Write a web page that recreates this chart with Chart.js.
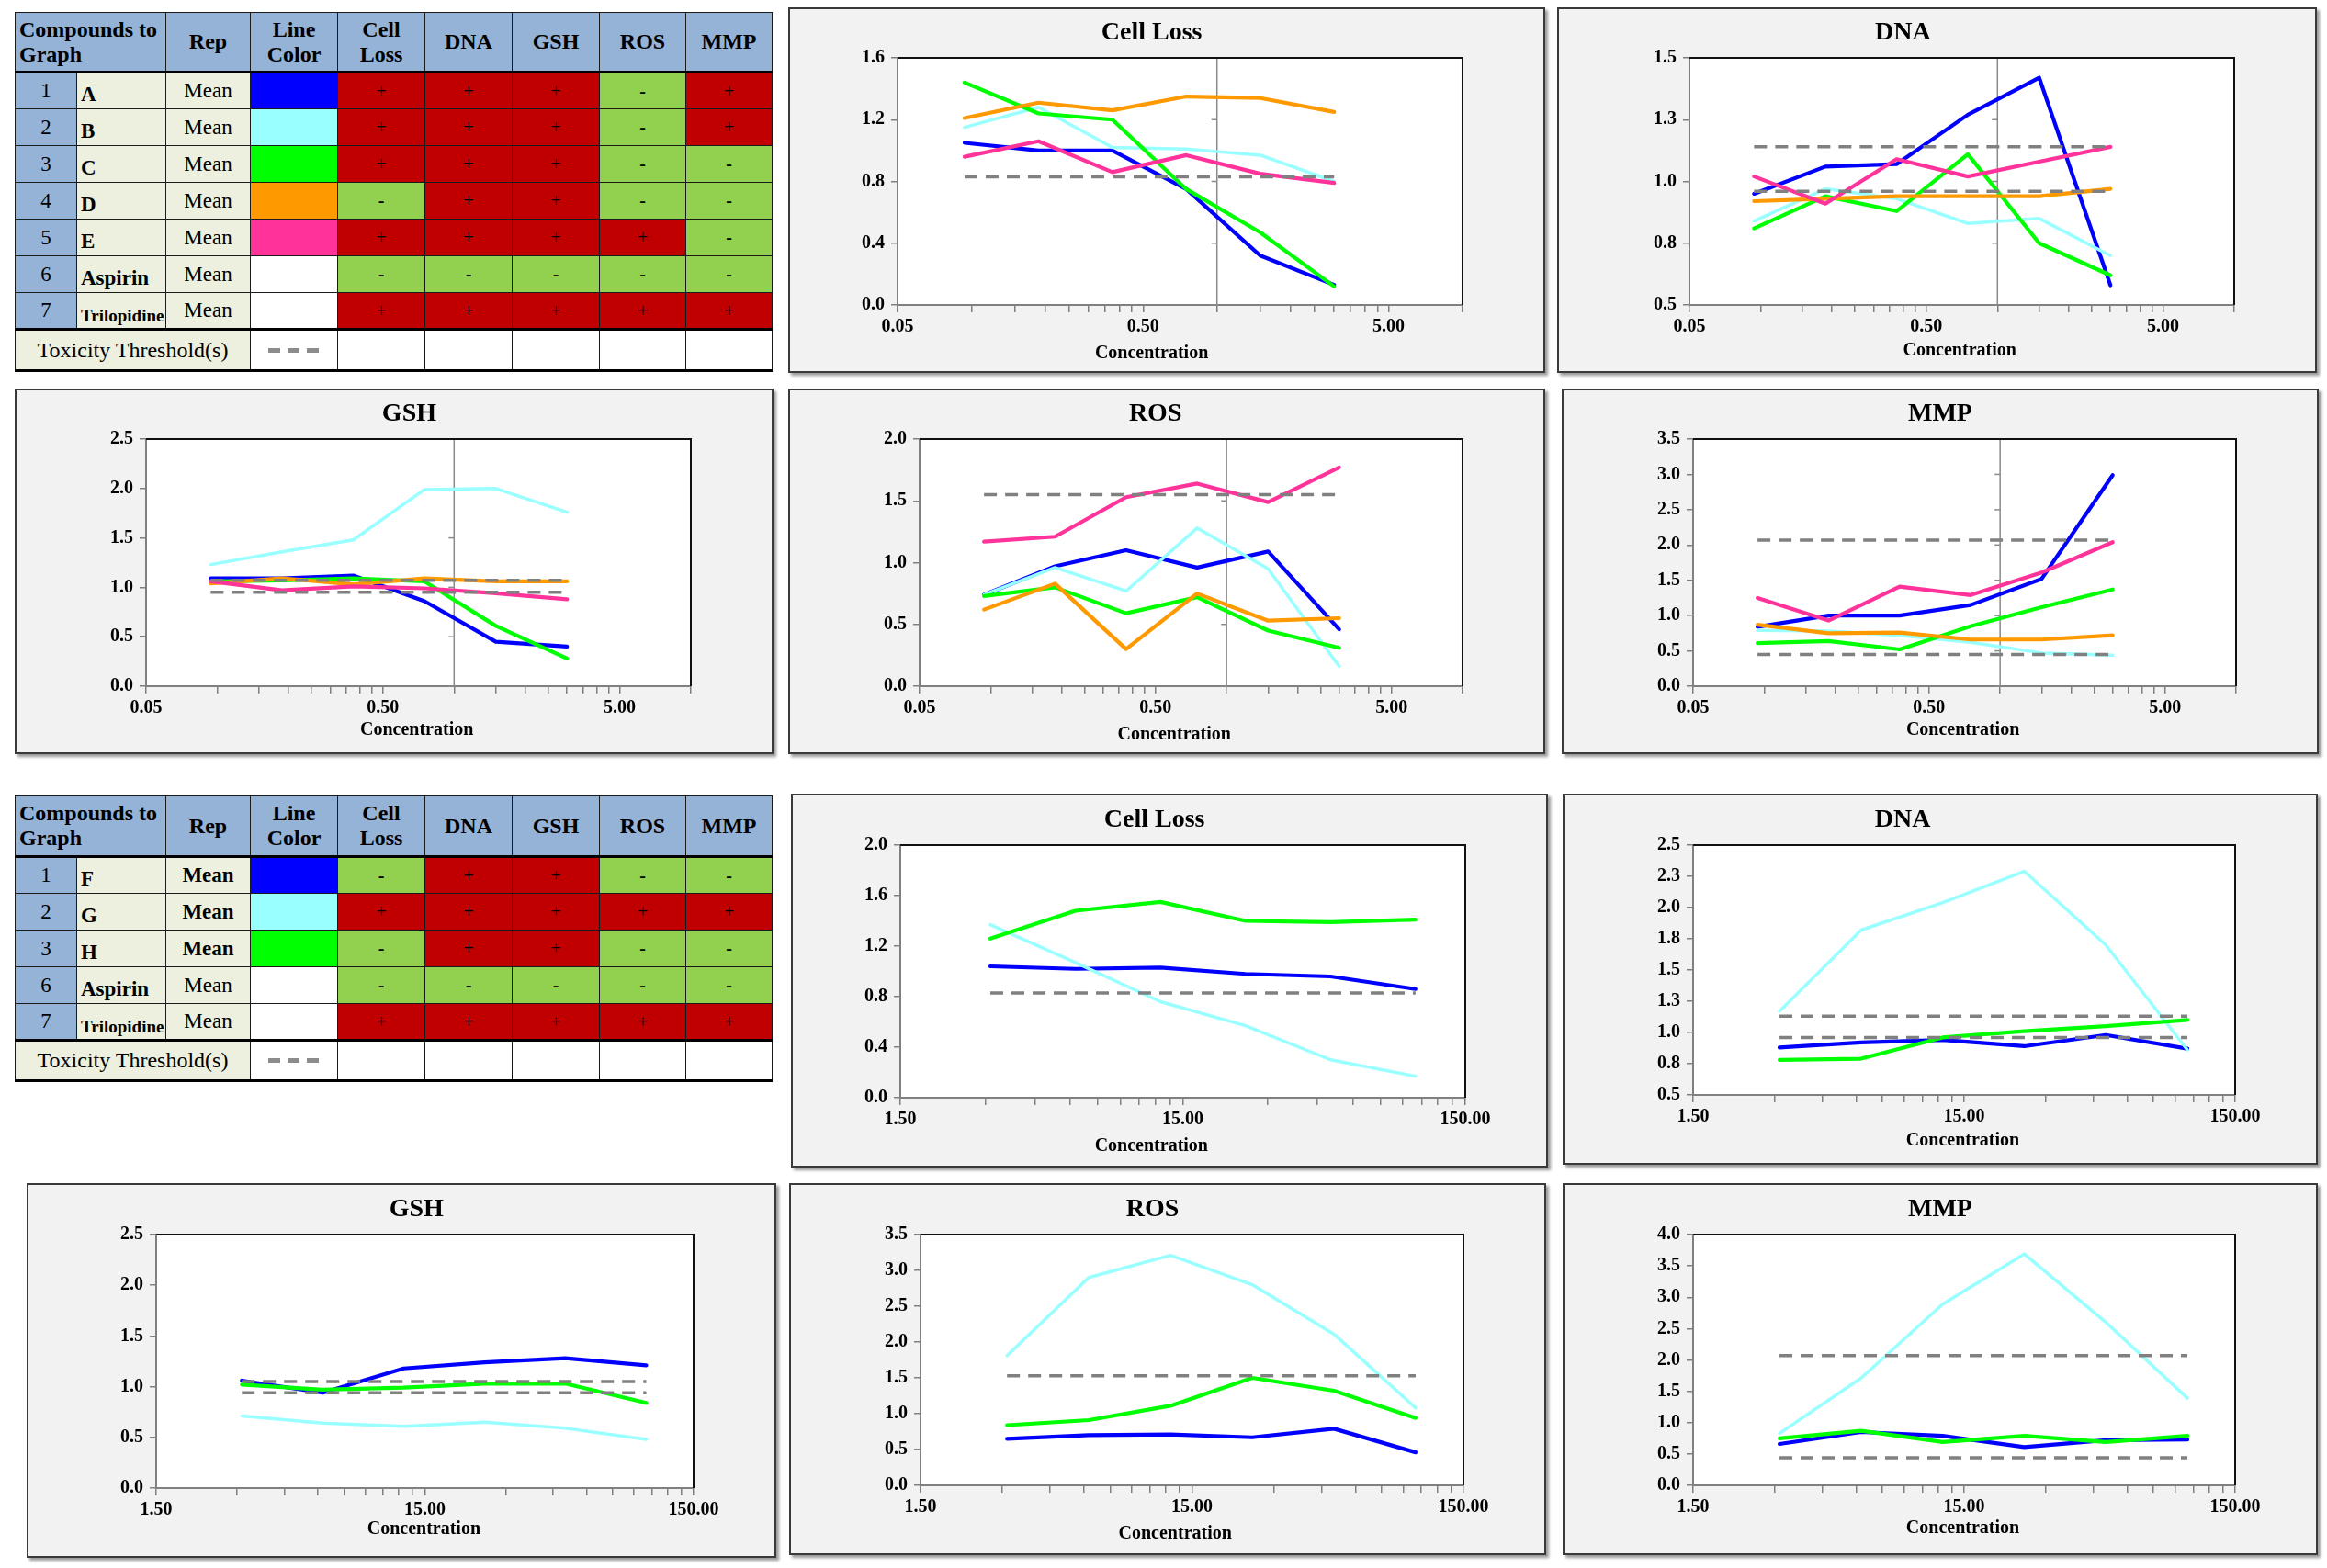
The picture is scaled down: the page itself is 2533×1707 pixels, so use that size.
<!DOCTYPE html>
<html><head><meta charset="utf-8">
<script src="https://cdn.jsdelivr.net/npm/chart.js@4.4.0/dist/chart.umd.min.js"></script>
<style>
html,body{margin:0;padding:0;background:#fff;width:2533px;height:1707px;overflow:hidden;}
.box{position:absolute;background:#f2f2f2;border:2px solid #3a3a3a;box-shadow:3px 3px 3px #9a9a9a;box-sizing:border-box;}
.box canvas{position:absolute;left:0;top:0;}
.ttl{position:absolute;font:bold 28px 'Liberation Serif','Times New Roman',serif;transform:translate(-50%,-50%);white-space:nowrap;color:#000;}
.axt{position:absolute;font:bold 20px 'Liberation Serif','Times New Roman',serif;transform:translate(-50%,-50%);white-space:nowrap;color:#000;}
table.tb{position:absolute;border-collapse:collapse;table-layout:fixed;font-family:'Liberation Serif','Times New Roman',serif;font-size:23px;color:#000;}
table.tb td,table.tb th{border:1.5px solid #1a1a1a;padding:0;overflow:visible;white-space:nowrap;}
table.tb th{background:#95b3d7;font-weight:bold;font-size:24px;text-align:center;vertical-align:middle;white-space:pre-line;line-height:1.12;border-bottom:3px solid #000;}
table.tb th.cmp{text-align:left;padding-left:4px;}
td.num{background:#95b3d7;text-align:center;vertical-align:middle;}
td.nm{background:#edf0de;font-weight:bold;vertical-align:bottom;padding-left:4px !important;padding-bottom:2px !important;}
td.rep{background:#edf0de;text-align:center;vertical-align:middle;}
td.flag{text-align:center;vertical-align:middle;font-size:20px;}
td.pos{background:#c00000;}
td.neg{background:#92d050;font-weight:bold;}
tr.last td{border-bottom:3px solid #000;}
tr.thr td{border-bottom:3px solid #000;background:#fff;}
tr.thr td.tl{background:#edf0de;text-align:center;font-size:24px;}
.dash{width:56px;height:5px;margin:0 auto;background:repeating-linear-gradient(to right,#8c8c8c 0 13px,transparent 13px 21px);}
</style>
</head><body>
<script>
// ---------------- DATA ----------------
const topConc = [0.09375, 0.1875, 0.375, 0.75, 1.5, 3];
const bottomConc = [3.125, 6.25, 12.5, 25, 50, 100];
const topXTickLabels = ['0.05', '0.50', '5.00'];
const bottomXTickLabels = ['1.50', '15.00', '150.00'];
const topCompounds = ['A', 'B', 'C', 'D', 'E'];
const bottomCompounds = ['F', 'G', 'H'];
const topColors = ['#0000ff', '#99ffff', '#00ff00', '#ff9900', '#ff3399'];
const bottomColors = ['#0000ff', '#99ffff', '#00ff00'];

// Top group (A..E), concentrations topConc
const cellLossA = [1.05, 1.00, 1.00, 0.75, 0.32, 0.13];
const cellLossB = [1.15, 1.28, 1.02, 1.01, 0.97, 0.80];
const cellLossC = [1.44, 1.24, 1.20, 0.75, 0.47, 0.12];
const cellLossD = [1.21, 1.31, 1.26, 1.35, 1.34, 1.25];
const cellLossE = [0.96, 1.06, 0.86, 0.97, 0.85, 0.79];
const cellLossThreshold = [0.83];

const dnaA = [0.95, 1.06, 1.07, 1.27, 1.42, 0.58];
const dnaB = [0.84, 0.97, 0.93, 0.83, 0.85, 0.70];
const dnaC = [0.81, 0.94, 0.88, 1.11, 0.75, 0.62];
const dnaD = [0.92, 0.93, 0.94, 0.94, 0.94, 0.97];
const dnaE = [1.02, 0.91, 1.09, 1.02, 1.08, 1.14];
const dnaThreshold = [1.14, 0.96];

const gshA = [1.09, 1.09, 1.12, 0.86, 0.45, 0.40];
const gshB = [1.23, 1.36, 1.48, 1.99, 2.00, 1.76];
const gshC = [1.06, 1.07, 1.09, 1.06, 0.61, 0.28];
const gshD = [1.04, 1.09, 1.03, 1.09, 1.06, 1.06];
const gshE = [1.06, 0.97, 1.01, 0.99, 0.94, 0.88];
const gshThreshold = [1.07, 0.95];

const rosA = [0.74, 0.97, 1.10, 0.96, 1.09, 0.46];
const rosB = [0.74, 0.96, 0.77, 1.28, 0.95, 0.16];
const rosC = [0.73, 0.80, 0.59, 0.72, 0.45, 0.31];
const rosD = [0.62, 0.83, 0.30, 0.75, 0.53, 0.55];
const rosE = [1.17, 1.21, 1.53, 1.64, 1.49, 1.77];
const rosThreshold = [1.55];

const mmpA = [0.84, 1.00, 1.00, 1.15, 1.52, 2.99];
const mmpB = [0.79, 0.78, 0.72, 0.62, 0.47, 0.44];
const mmpC = [0.61, 0.64, 0.52, 0.85, 1.12, 1.37];
const mmpD = [0.87, 0.75, 0.76, 0.66, 0.66, 0.72];
const mmpE = [1.25, 0.93, 1.41, 1.29, 1.61, 2.04];
const mmpThreshold = [2.07, 0.45];

// Bottom group (F..H), concentrations bottomConc
const cellLossF = [1.04, 1.02, 1.03, 0.98, 0.96, 0.86];
const cellLossG = [1.37, 1.07, 0.76, 0.57, 0.30, 0.17];
const cellLossH = [1.26, 1.48, 1.55, 1.40, 1.39, 1.41];
const cellLossThreshold2 = [0.83];

const dnaF = [0.88, 0.92, 0.94, 0.89, 0.98, 0.87];
const dnaG = [1.17, 1.82, 2.04, 2.29, 1.70, 0.86];
const dnaH = [0.78, 0.79, 0.96, 1.01, 1.05, 1.10];
const dnaThreshold2 = [1.13, 0.96];

const gshF = [1.06, 0.94, 1.18, 1.24, 1.28, 1.21];
const gshG = [0.71, 0.64, 0.61, 0.65, 0.59, 0.48];
const gshH = [1.02, 0.97, 0.99, 1.03, 1.03, 0.84];
const gshThreshold2 = [1.05, 0.94];

const rosF = [0.65, 0.70, 0.71, 0.67, 0.79, 0.46];
const rosG = [1.81, 2.90, 3.21, 2.80, 2.11, 1.08];
const rosH = [0.84, 0.91, 1.11, 1.50, 1.32, 0.94];
const rosThreshold2 = [1.53];

const mmpF = [0.66, 0.85, 0.79, 0.61, 0.72, 0.73];
const mmpG = [0.83, 1.71, 2.89, 3.69, 2.60, 1.39];
const mmpH = [0.75, 0.87, 0.69, 0.79, 0.69, 0.79];
const mmpThreshold2 = [2.07, 0.44];

// Tables
const tableHeaders = ['Rep', 'Line\nColor', 'Cell\nLoss', 'DNA', 'GSH', 'ROS', 'MMP'];
const topRowNums = [1, 2, 3, 4, 5, 6, 7];
const topRowNames = ['A', 'B', 'C', 'D', 'E', 'Aspirin', 'Trilopidine'];
const topRowColors = ['#0000ff', '#99ffff', '#00ff00', '#ff9900', '#ff3399', '#ffffff', '#ffffff'];
const topRowFlags = ['+++-+', '+++-+', '+++--', '-++--', '++++-', '-----', '+++++'];
const bottomRowNums = [1, 2, 3, 6, 7];
const bottomRowNames = ['F', 'G', 'H', 'Aspirin', 'Trilopidine'];
const bottomRowColors = ['#0000ff', '#99ffff', '#00ff00', '#ffffff', '#ffffff'];
const bottomRowFlags = ['-++--', '+++++', '-++--', '-----', '+++++'];
const bottomRowBoldRep = [true, true, true, false, false];

// ---------------- TABLES ----------------
function drawTable(left, top, nums, names, colors, flags, boldRep, headerH, rowH, thrH) {
  const colW = [67, 97, 92, 95, 95, 95, 95, 94, 94];
  const tb = document.createElement('table');
  tb.className = 'tb';
  tb.style.left = left + 'px'; tb.style.top = top + 'px';
  tb.style.width = colW.reduce((a, b) => a + b, 0) + 'px';
  const cg = document.createElement('colgroup');
  colW.forEach(w => { const c = document.createElement('col'); c.style.width = w + 'px'; cg.appendChild(c); });
  tb.appendChild(cg);
  const hr = document.createElement('tr'); hr.style.height = headerH + 'px';
  const h0 = document.createElement('th'); h0.colSpan = 2; h0.className = 'cmp'; h0.textContent = 'Compounds to\nGraph'; hr.appendChild(h0);
  tableHeaders.forEach(h => { const th = document.createElement('th'); th.textContent = h; hr.appendChild(th); });
  tb.appendChild(hr);
  nums.forEach((n, i) => {
    const tr = document.createElement('tr'); tr.style.height = rowH + 'px';
    if (i === nums.length - 1) tr.className = 'last';
    const a = document.createElement('td'); a.className = 'num'; a.textContent = n; tr.appendChild(a);
    const b = document.createElement('td'); b.className = 'nm'; b.textContent = names[i];
    if (names[i] === 'Trilopidine') b.style.fontSize = '19px';
    tr.appendChild(b);
    const c = document.createElement('td'); c.className = 'rep'; c.textContent = 'Mean';
    if (boldRep && boldRep[i]) c.style.fontWeight = 'bold';
    tr.appendChild(c);
    const d = document.createElement('td'); d.style.background = colors[i]; tr.appendChild(d);
    flags[i].split('').forEach(f => {
      const e = document.createElement('td');
      e.className = 'flag ' + (f === '+' ? 'pos' : 'neg');
      e.textContent = f; tr.appendChild(e);
    });
    tb.appendChild(tr);
  });
  const tr = document.createElement('tr'); tr.className = 'thr'; tr.style.height = thrH + 'px';
  const t0 = document.createElement('td'); t0.colSpan = 3; t0.className = 'tl'; t0.textContent = 'Toxicity Threshold(s)'; tr.appendChild(t0);
  const t1 = document.createElement('td'); const dd = document.createElement('div'); dd.className = 'dash'; t1.appendChild(dd); tr.appendChild(t1);
  for (let k = 0; k < 5; k++) tr.appendChild(document.createElement('td'));
  tb.appendChild(tr);
  document.body.appendChild(tb);
}
drawTable(16, 13, topRowNums, topRowNames, topRowColors, topRowFlags, null, 65, 40, 45);
drawTable(16, 866, bottomRowNums, bottomRowNames, bottomRowColors, bottomRowFlags, bottomRowBoldRep, 66, 40, 44);

// ---------------- CHARTS ----------------
function buildLogTicks(min, max, labels) {
  const out = []; let base = min; let d = 0;
  while (base <= max * 1.0001) {
    for (let k = 1; k <= 9; k++) {
      const v = base * k;
      if (v > max * 1.0001) break;
      out.push({ value: v, label: k === 1 ? (labels[d] || '') : '' });
    }
    base *= 10; d++;
  }
  return out;
}

const framePlugin = {
  id: 'frame',
  beforeDraw(chart) {
    const { ctx, chartArea: a } = chart;
    ctx.save(); ctx.fillStyle = '#ffffff';
    ctx.fillRect(a.left, a.top, a.right - a.left, a.bottom - a.top);
    ctx.restore();
  },
  beforeDatasetsDraw(chart, args, opts) {
    if (!opts || !opts.crossAt) return;
    const { ctx, chartArea: a } = chart;
    const xs = chart.scales.x, ys = chart.scales.y;
    const px = xs.getPixelForValue(opts.crossAt);
    ctx.save();
    ctx.strokeStyle = '#8a8a8a'; ctx.lineWidth = 1.5;
    ctx.beginPath(); ctx.moveTo(px, a.top); ctx.lineTo(px, a.bottom); ctx.stroke();
    ys.ticks.forEach(t => {
      const py = ys.getPixelForValue(t.value);
      ctx.beginPath(); ctx.moveTo(px - 6, py); ctx.lineTo(px, py); ctx.stroke();
    });
    ctx.restore();
  },
  afterDraw(chart) {
    const { ctx, chartArea: a } = chart;
    ctx.save(); ctx.strokeStyle = '#111'; ctx.lineWidth = 2;
    ctx.beginPath(); ctx.moveTo(a.left, a.top); ctx.lineTo(a.right, a.top); ctx.lineTo(a.right, a.bottom); ctx.stroke();
    ctx.restore();
  }
};

function drawChart(s) {
  const box = document.createElement('div');
  box.className = 'box';
  box.style.left = s.left + 'px'; box.style.top = s.top + 'px';
  box.style.width = s.w + 'px'; box.style.height = s.h + 'px';
  document.body.appendChild(box);
  const cw = s.w - 4, ch = s.h - 4;
  const cv = document.createElement('canvas');
  cv.width = cw; cv.height = ch; cv.style.width = cw + 'px'; cv.style.height = ch + 'px';
  box.appendChild(cv);
  const t = document.createElement('div'); t.className = 'ttl'; t.textContent = s.title;
  t.style.left = (cw * s.tFx) + 'px'; t.style.top = s.tY + 'px'; box.appendChild(t);
  const ax = document.createElement('div'); ax.className = 'axt'; ax.textContent = 'Concentration';
  ax.style.left = (cw * s.aFx) + 'px'; ax.style.top = (ch - s.aB) + 'px'; box.appendChild(ax);

  const xt = buildLogTicks(s.xMin, s.xMax, s.xLabels);
  const yt = [];
  for (let v = s.yMin; v <= s.yMax + 1e-9; v += s.yStep) yt.push(Math.round(v * 1000) / 1000);

  const datasets = [];
  s.series.forEach((vals, i) => {
    datasets.push({
      data: vals.map((y, j) => ({ x: s.conc[j], y })),
      borderColor: s.colors[i], backgroundColor: s.colors[i],
      borderWidth: s.colors[i] === '#99ffff' ? 3.5 : 4.2,
      pointRadius: 0, tension: 0, fill: false,
      borderJoinStyle: 'round', borderCapStyle: 'round',
      order: s.series.length - i
    });
  });
  s.thresholds.forEach(tv => {
    datasets.push({
      data: [{ x: s.conc[0], y: tv }, { x: s.conc[s.conc.length - 1], y: tv }],
      borderColor: '#808080', borderWidth: 3.5, borderDash: [14, 9],
      pointRadius: 0, fill: false, order: 0
    });
  });
  const tickFont = { family: "'Liberation Serif','Times New Roman',serif", size: 20, weight: 'bold' };
  new Chart(cv, {
    type: 'line',
    data: { datasets },
    options: {
      responsive: false, animation: false, devicePixelRatio: 1,
      layout: { padding: { top: s.pTop, right: s.pRight, bottom: 0, left: 0 } },
      plugins: { legend: { display: false }, tooltip: { enabled: false }, title: { display: false }, frame: { crossAt: s.crossAt } },
      scales: {
        x: {
          type: 'logarithmic', min: s.xMin, max: s.xMax,
          afterBuildTicks: sc => { sc.ticks = xt.map(o => ({ value: o.value })); },
          afterFit: sc => { sc.height = s.pBottom; },
          ticks: { autoSkip: false, maxRotation: 0, minRotation: 0, padding: 4, color: '#000', font: tickFont,
            callback: (v, i) => (xt[i] ? xt[i].label : '') },
          grid: { drawOnChartArea: false, drawTicks: true, tickLength: 8, color: '#808080', lineWidth: 1.5 },
          border: { display: true, color: '#808080', width: 2 }
        },
        y: {
          type: 'linear', min: s.yMin, max: s.yMax,
          afterBuildTicks: sc => { sc.ticks = yt.map(v => ({ value: v })); },
          afterFit: sc => { sc.width = s.pLeft; },
          ticks: { padding: 7, color: '#000', font: tickFont, callback: v => Number(v).toFixed(1) },
          grid: { drawOnChartArea: false, drawTicks: true, tickLength: 7, color: '#808080', lineWidth: 1.5 },
          border: { display: true, color: '#808080', width: 2 }
        }
      }
    },
    plugins: [framePlugin]
  });
}

const topBase = { conc: topConc, xMin: 0.05, xMax: 10, xLabels: topXTickLabels, colors: topColors, crossAt: 1, pTop: 53, pRight: 88, pBottom: 72, tY: 24 };
const botBase = { conc: bottomConc, xMin: 1.5, xMax: 150, xLabels: bottomXTickLabels, colors: bottomColors, crossAt: null, pTop: 54, pRight: 88, pBottom: 74, tY: 25 };

const chartSpecs = [
  Object.assign({}, topBase, { title: 'Cell Loss', left: 858, top: 8, w: 824, h: 398, pLeft: 117, tFx: 0.48, aFx: 0.48, aB: 21,
    yMin: 0, yMax: 1.6, yStep: 0.4, series: [cellLossA, cellLossB, cellLossC, cellLossD, cellLossE], thresholds: cellLossThreshold }),
  Object.assign({}, topBase, { title: 'DNA', left: 1695, top: 8, w: 827, h: 398, pLeft: 142, tFx: 0.455, aFx: 0.53, aB: 24,
    yMin: 0.5, yMax: 1.5, yStep: 0.25, series: [dnaA, dnaB, dnaC, dnaD, dnaE], thresholds: dnaThreshold }),
  Object.assign({}, topBase, { title: 'GSH', left: 16, top: 423, w: 826, h: 398, pLeft: 141, tFx: 0.52, aFx: 0.53, aB: 26,
    yMin: 0, yMax: 2.5, yStep: 0.5, series: [gshA, gshB, gshC, gshD, gshE], thresholds: gshThreshold }),
  Object.assign({}, topBase, { title: 'ROS', left: 858, top: 423, w: 824, h: 398, pLeft: 141, tFx: 0.485, aFx: 0.51, aB: 21,
    yMin: 0, yMax: 2.0, yStep: 0.5, series: [rosA, rosB, rosC, rosD, rosE], thresholds: rosThreshold }),
  Object.assign({}, topBase, { title: 'MMP', left: 1700, top: 423, w: 824, h: 398, pLeft: 141, tFx: 0.50, aFx: 0.53, aB: 26,
    yMin: 0, yMax: 3.5, yStep: 0.5, series: [mmpA, mmpB, mmpC, mmpD, mmpE], thresholds: mmpThreshold }),
  Object.assign({}, botBase, { title: 'Cell Loss', left: 861, top: 864, w: 824, h: 407, pLeft: 117, tFx: 0.48, aFx: 0.476, aB: 23,
    yMin: 0, yMax: 2.0, yStep: 0.4, series: [cellLossF, cellLossG, cellLossH], thresholds: cellLossThreshold2 }),
  Object.assign({}, botBase, { title: 'DNA', left: 1701, top: 864, w: 822, h: 404, pLeft: 140, tFx: 0.45, aFx: 0.53, aB: 26,
    yMin: 0.5, yMax: 2.5, yStep: 0.25, series: [dnaF, dnaG, dnaH], thresholds: dnaThreshold2 }),
  Object.assign({}, botBase, { title: 'GSH', left: 29, top: 1288, w: 816, h: 408, pLeft: 139, tFx: 0.52, aFx: 0.53, aB: 31,
    yMin: 0, yMax: 2.5, yStep: 0.5, series: [gshF, gshG, gshH], thresholds: gshThreshold2 }),
  Object.assign({}, botBase, { title: 'ROS', left: 859, top: 1288, w: 824, h: 405, pLeft: 141, tFx: 0.48, aFx: 0.51, aB: 23,
    yMin: 0, yMax: 3.5, yStep: 0.5, series: [rosF, rosG, rosH], thresholds: rosThreshold2 }),
  Object.assign({}, botBase, { title: 'MMP', left: 1701, top: 1288, w: 822, h: 405, pLeft: 140, tFx: 0.50, aFx: 0.53, aB: 29,
    yMin: 0, yMax: 4.0, yStep: 0.5, series: [mmpF, mmpG, mmpH], thresholds: mmpThreshold2 })
];
chartSpecs.forEach(drawChart);
</script>
</body></html>
